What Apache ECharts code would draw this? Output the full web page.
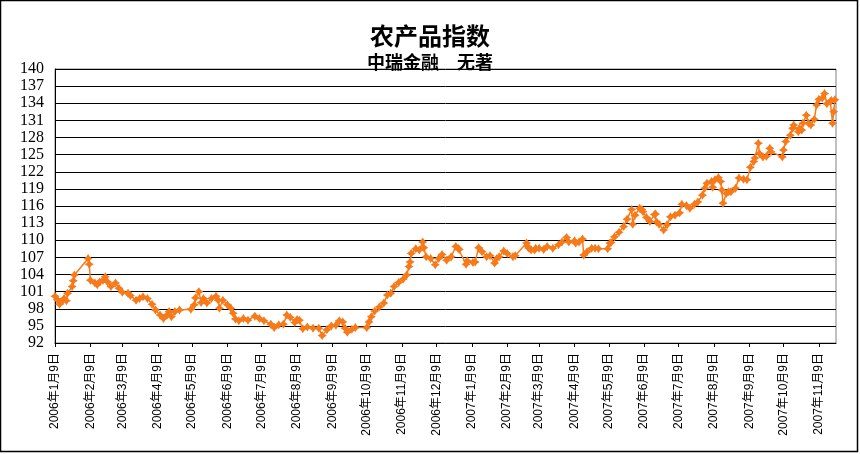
<!DOCTYPE html>
<html>
<head>
<meta charset="utf-8">
<script src="https://cdn.jsdelivr.net/npm/echarts@6/dist/echarts.min.js"></script>
<style>
html,body{margin:0;padding:0;background:#fff;}
#chart{width:860px;height:454px;}
</style>
</head>
<body>
<div id="chart"></div>
<script>
const titleText = '农产品指数';
const subtitleText = '中瑞金融　无著';

const yTicks = [92,95,98,101,104,107,110,113,116,119,122,125,128,131,134,137,140];

const tickDates = [
 '2006-01-09','2006-02-09','2006-03-09','2006-04-09','2006-05-09','2006-06-09',
 '2006-07-09','2006-08-09','2006-09-09','2006-10-09','2006-11-09','2006-12-09',
 '2007-01-09','2007-02-09','2007-03-09','2007-04-09','2007-05-09','2007-06-09',
 '2007-07-09','2007-08-09','2007-09-09','2007-10-09','2007-11-09'
];

const dates = [
 '2006-01-09','2006-01-11','2006-01-13','2006-01-16','2006-01-17','2006-01-19','2006-01-20','2006-01-24','2006-01-25','2006-01-26',
 '2006-02-07','2006-02-08','2006-02-09','2006-02-13','2006-02-15','2006-02-17','2006-02-20','2006-02-22','2006-02-24','2006-02-27',
 '2006-03-03','2006-03-06','2006-03-09','2006-03-14','2006-03-16','2006-03-21','2006-03-24','2006-03-27','2006-03-31',
 '2006-04-04','2006-04-07','2006-04-11','2006-04-14','2006-04-17','2006-04-19','2006-04-21','2006-04-24','2006-04-28',
 '2006-05-08','2006-05-11','2006-05-12','2006-05-15','2006-05-17','2006-05-19','2006-05-22','2006-05-26','2006-05-30',
 '2006-06-01','2006-06-02','2006-06-05','2006-06-09','2006-06-12','2006-06-14','2006-06-16','2006-06-19','2006-06-23','2006-06-27',
 '2006-07-03','2006-07-07','2006-07-11','2006-07-17','2006-07-20','2006-07-24','2006-07-28','2006-07-31',
 '2006-08-03','2006-08-07','2006-08-09','2006-08-11','2006-08-14','2006-08-18','2006-08-23','2006-08-28','2006-08-31',
 '2006-09-04','2006-09-08','2006-09-12','2006-09-15','2006-09-18','2006-09-20','2006-09-22','2006-09-26','2006-09-29',
 '2006-10-09','2006-10-11','2006-10-13','2006-10-16','2006-10-20','2006-10-24','2006-10-27','2006-10-30',
 '2006-11-02','2006-11-06','2006-11-10','2006-11-13','2006-11-15','2006-11-16','2006-11-17','2006-11-21','2006-11-24','2006-11-27','2006-11-28','2006-11-30',
 '2006-12-04','2006-12-08','2006-12-11','2006-12-14','2006-12-18','2006-12-22','2006-12-26','2006-12-28','2006-12-29',
 '2007-01-04','2007-01-05','2007-01-10','2007-01-12','2007-01-15','2007-01-18','2007-01-22','2007-01-25','2007-01-29','2007-01-31',
 '2007-02-02','2007-02-06','2007-02-09','2007-02-14','2007-02-16','2007-02-26','2007-02-27','2007-02-28',
 '2007-03-02','2007-03-05','2007-03-06','2007-03-09','2007-03-13','2007-03-16','2007-03-21','2007-03-26','2007-03-29',
 '2007-04-02','2007-04-04','2007-04-09','2007-04-10','2007-04-13','2007-04-16','2007-04-17','2007-04-20','2007-04-24','2007-04-27','2007-04-30',
 '2007-05-08','2007-05-10','2007-05-11','2007-05-14','2007-05-18','2007-05-22','2007-05-25','2007-05-29','2007-05-30',
 '2007-06-01','2007-06-05','2007-06-07','2007-06-08','2007-06-11','2007-06-14','2007-06-18','2007-06-19','2007-06-20','2007-06-22','2007-06-26','2007-06-29',
 '2007-07-02','2007-07-06','2007-07-10','2007-07-12','2007-07-16','2007-07-19','2007-07-23','2007-07-26','2007-07-30',
 '2007-08-01','2007-08-03','2007-08-07','2007-08-08','2007-08-10','2007-08-13','2007-08-15','2007-08-16','2007-08-17','2007-08-20','2007-08-22','2007-08-24','2007-08-28','2007-08-31',
 '2007-09-04','2007-09-07','2007-09-10','2007-09-13','2007-09-14','2007-09-17','2007-09-18','2007-09-21','2007-09-24','2007-09-27','2007-09-28',
 '2007-10-08','2007-10-09','2007-10-11','2007-10-15','2007-10-17','2007-10-18','2007-10-22','2007-10-23','2007-10-25','2007-10-26','2007-10-29','2007-10-31',
 '2007-11-02','2007-11-05','2007-11-07','2007-11-09','2007-11-12','2007-11-14','2007-11-16','2007-11-19','2007-11-20','2007-11-21','2007-11-22','2007-11-23'
];

const values = [
 100.2,99.6,98.8,99.5,99.8,99.4,100.7,101.9,102.9,103.9,
 106.8,105.8,103.0,102.5,102.2,102.7,103.0,103.6,102.7,101.9,
 102.5,101.6,100.9,100.7,100.3,99.5,99.8,100.1,99.8,
 98.8,97.8,96.9,96.3,96.9,97.5,96.6,97.5,97.8,
 97.9,98.7,99.9,101.0,99.1,99.8,99.0,99.8,100.2,
 99.5,98.1,99.5,98.7,98.1,97.2,96.2,95.9,96.3,96.0,
 96.7,96.3,95.9,95.3,94.7,95.2,95.3,96.9,
 96.5,95.6,96.1,96.0,94.5,94.8,94.6,94.6,93.3,
 94.3,95.0,95.1,95.9,95.7,94.6,93.9,94.4,94.7,
 94.7,95.7,96.6,97.6,98.3,99.0,100.4,100.7,
 101.9,102.6,103.2,103.9,105.4,106.2,107.7,108.5,108.3,109.7,108.7,107.1,
 106.8,105.7,106.8,107.5,106.5,107.1,108.9,108.6,108.4,
 105.8,106.4,106.1,106.2,108.7,108.0,107.1,107.3,106.0,106.8,
 107.1,108.1,107.7,107.1,107.3,109.5,108.9,108.6,
 108.3,108.3,108.6,108.6,108.4,108.9,108.6,109.2,109.7,
 110.5,109.7,109.9,109.5,109.7,110.2,107.4,108.0,108.6,108.6,108.5,
 108.5,109.5,109.6,110.6,111.4,112.4,113.7,115.4,112.8,
 114.4,115.6,115.4,115.0,114.0,113.3,114.5,114.6,113.2,112.8,111.8,112.7,
 114.1,114.4,114.8,116.3,116.1,115.6,116.3,116.7,117.9,
 119.1,120.0,120.3,119.3,120.6,121.0,120.3,118.8,116.5,118.2,118.5,118.5,119.1,120.9,
 120.7,120.6,122.8,123.8,124.4,127.0,125.2,124.6,124.7,126.1,125.5,
 124.6,125.8,127.3,128.4,129.6,130.2,129.0,129.6,129.3,130.5,131.9,130.5,
 130.2,131.2,133.7,134.7,134.9,135.7,133.9,134.3,134.5,130.5,132.5,134.6
];

function toTime(s){ const p = s.split('-'); return new Date(+p[0], +p[1]-1, +p[2]).getTime(); }

const seriesData = dates.map((d,i)=>[toTime(d), values[i]]);
const tickTimes = tickDates.map(toTime);
const gridValues = yTicks.filter(v => v !== yTicks[0] && v !== yTicks[yTicks.length-1]);

const chart = echarts.init(document.getElementById('chart'), null, {renderer:'canvas'});
chart.setOption({
  animation: false,
  backgroundColor: '#fff',
  title: [
    {text: titleText, left: 'center', top: 19,
     textStyle: {fontSize: 24, fontWeight: 'bold', color: '#000', fontFamily: '"Noto Sans CJK SC", sans-serif'}},
    {text: subtitleText, left: 'center', top: 48,
     textStyle: {fontSize: 18, fontWeight: 'bold', color: '#000', fontFamily: '"Noto Sans CJK SC", sans-serif'}}
  ],
  graphic: [
    {type:'rect', shape:{x:0.5, y:0.5, width:857, height:451}, style:{fill:'none', stroke:'#000', lineWidth:1.5}, silent:true}
  ],
  grid: {left: 55, right: 24, top: 69, bottom: 111, show: true, borderColor: '#808080', borderWidth: 1, backgroundColor: '#fff'},
  xAxis: {
    type: 'value',
    min: toTime('2006-01-09'),
    max: toTime('2007-11-24'),
    axisLine: {show: true, lineStyle: {color: '#000', width: 1}},
    axisTick: {show: true, customValues: tickTimes, length: 4, lineStyle: {color: '#000'}},
    splitLine: {show: false},
    axisLabel: {
      customValues: tickTimes,
      rotate: 90, margin: 10,
      fontSize: 12, color: '#000',
      fontFamily: '"Liberation Sans", "Noto Sans CJK SC", sans-serif',
      formatter: function(v){ const d = new Date(v); return d.getFullYear() + '年' + (d.getMonth()+1) + '月' + d.getDate() + '日'; }
    }
  },
  yAxis: {
    type: 'value',
    min: yTicks[0], max: yTicks[yTicks.length-1],
    axisLine: {show: true, lineStyle: {color: '#000', width: 1}},
    axisTick: {show: false, customValues: yTicks},
    splitLine: {show: true, customValues: gridValues, lineStyle: {color: '#000', width: 1}},
    axisLabel: {
      customValues: yTicks,
      margin: 11, fontSize: 16, color: '#000',
      fontFamily: '"Liberation Serif", serif'
    }
  },
  series: [{
    type: 'line',
    data: seriesData,
    symbol: 'path://M0,-10 L4,-4 L10,0 L4,4 L0,10 L-4,4 L-10,0 L-4,-4 Z',
    symbolSize: 9,
    showAllSymbol: true,
    lineStyle: {color: '#F77A1A', width: 1.5},
    itemStyle: {color: '#F77A1A'}
  }]
});
</script>
</body>
</html>
